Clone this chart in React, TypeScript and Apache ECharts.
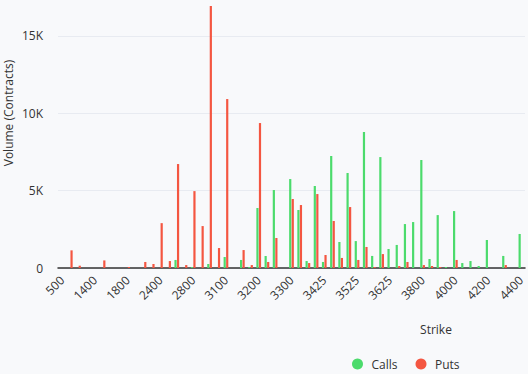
import React, { useEffect, useRef } from "react";
import * as echarts from "echarts";

const strikes = [
  "500", "800", "1000", "1200", "1400", "1500", "1600", "1700",
  "1800", "2000", "2100", "2200", "2400", "2500", "2600", "2700",
  "2800", "2900", "3000", "3050", "3100", "3125", "3150", "3175",
  "3200", "3225", "3250", "3275", "3300", "3325", "3350", "3400",
  "3425", "3450", "3475", "3500", "3525", "3550", "3575", "3600",
  "3625", "3650", "3700", "3750", "3800", "3850", "3900", "3950",
  "4000", "4050", "4100", "4150", "4200", "4250", "4300", "4350",
  "4400",
];

const calls = [
  0, 0, 0, 0, 0, 0, 0, 0,
  0, 0, 0, 0, 0, 0, 520, 0,
  65, 0, 260, 0, 710, 0, 520, 65,
  3880, 775, 5040, 0, 5750, 3750, 450, 5300,
  390, 7240, 1680, 6140, 1740, 8790, 780, 7170,
  1230, 1490, 2840, 2970, 6980, 580, 3420, 65,
  3680, 320, 450, 130, 1810, 0, 780, 0,
  2200,
];

const puts = [
  0, 1140, 150, 0, 0, 490, 0, 0,
  70, 0, 390, 260, 2900, 450, 6720, 190,
  4970, 2710, 16930, 1290, 10920, 0, 1160, 190,
  9370, 390, 1940, 0, 4460, 4070, 320, 4780,
  840, 3040, 650, 3940, 520, 1360, 65, 900,
  0, 130, 390, 0, 190, 130, 65, 0,
  520, 0, 0, 0, 0, 0, 190, 0,
  0,
];

const yTicks = [0, 5000, 10000, 15000];

const GREEN = "#4cdb6c";
const RED = "#f45641";
const FONT = "'Open Sans', 'Noto Sans', sans-serif";

export default function App() {
  const ref = useRef<HTMLDivElement>(null);

  useEffect(() => {
    if (!ref.current) return;
    const chart = echarts.init(ref.current, undefined, { renderer: "svg" });
    chart.setOption({
      animation: false,
      backgroundColor: "#f8f9fb",
      textStyle: { fontFamily: FONT },
      grid: { left: 58, right: 3, top: 5, bottom: 106 },
      legend: {
        data: ["Calls", "Puts"],
        left: 347,
        top: 353,
        padding: 5,
        icon: "circle",
        itemWidth: 18,
        itemHeight: 11,
        itemGap: 18,
        textStyle: { fontSize: 12, color: "#333", fontFamily: FONT },
      },
      xAxis: {
        type: "category",
        data: strikes,
        axisLine: { lineStyle: { color: "#333", width: 1.5 } },
        axisTick: { show: false },
        axisLabel: {
          interval: 3,
          rotate: 45,
          fontSize: 12,
          color: "#333",
          margin: 10,
          fontFamily: FONT,
        },
      },
      yAxis: {
        type: "value",
        min: yTicks[0],
        max: 17000,
        interval: yTicks[1] - yTicks[0],
        axisLine: { show: false },
        axisTick: { show: false },
        splitLine: {
          showMaxLine: false,
          lineStyle: { color: "#e8ebf1", width: 1 },
        },
        axisLabel: {
          showMaxLabel: false,
          fontSize: 12,
          color: "#333",
          margin: 15,
          fontFamily: FONT,
          formatter: (v: number) => (v === 0 ? "0" : v / 1000 + "K"),
        },
      },
      graphic: [
        {
          type: "text",
          x: 8,
          y: 113,
          rotation: Math.PI / 2,
          style: {
            text: "Volume (Contracts)",
            fontSize: 12,
            fill: "#333",
            fontFamily: FONT,
            align: "center",
            verticalAlign: "middle",
          },
        },
        {
          type: "text",
          x: 436,
          y: 329,
          style: {
            text: "Strike",
            fontSize: 12,
            fill: "#333",
            fontFamily: FONT,
            align: "center",
            verticalAlign: "middle",
          },
        },
      ],
      series: [
        {
          name: "Calls",
          type: "bar",
          data: calls,
          barWidth: 2.2,
          barGap: "15%",
          itemStyle: { color: GREEN },
        },
        {
          name: "Puts",
          type: "bar",
          data: puts,
          barWidth: 2.2,
          itemStyle: { color: RED },
        },
      ],
    });
    return () => chart.dispose();
  }, []);

  return (
    <div
      ref={ref}
      style={{ position: "fixed", left: 0, top: 0, width: 528, height: 374 }}
    />
  );
}
